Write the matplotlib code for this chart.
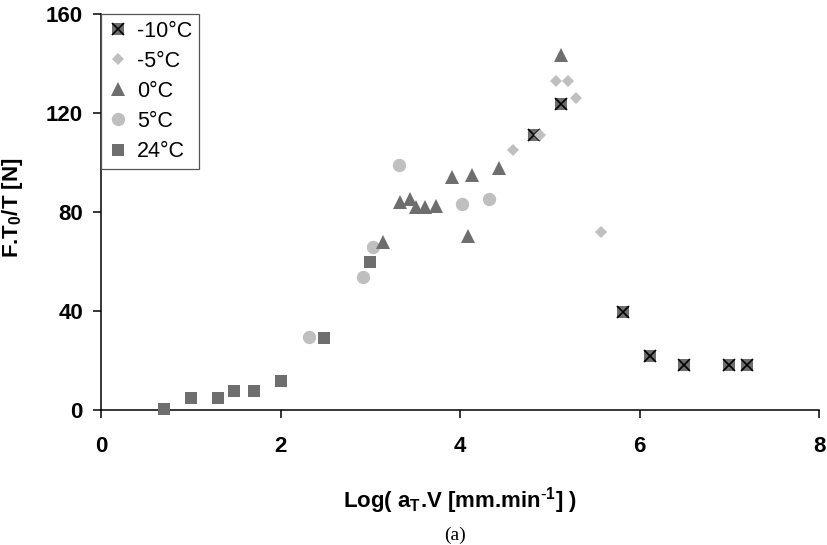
import matplotlib
matplotlib.use("Agg")
import matplotlib.pyplot as plt

# data: x = Log(aT.V), y = F.T0/T [N]
t_m10_x = [4.82, 5.12, 5.82, 6.12, 6.50, 7.00, 7.20]
t_m10_y = [111.0, 123.5, 39.5, 21.7, 18.0, 18.0, 18.0]
t_m5_x = [4.59, 4.89, 5.07, 5.20, 5.29, 5.57]
t_m5_y = [105.0, 111.0, 133.0, 133.0, 126.2, 72.0]
t_0_x = [3.14, 3.33, 3.44, 3.51, 3.61, 3.73, 3.91, 4.09, 4.13, 4.43, 5.13]
t_0_y = [68.0, 84.2, 85.1, 82.0, 82.0, 82.5, 94.0, 70.4, 95.0, 97.6, 143.4]
t_5_x = [2.32, 2.92, 3.03, 3.32, 4.02, 4.32]
t_5_y = [29.4, 53.9, 66.0, 99.0, 83.2, 85.4]
t_24_x = [0.70, 1.00, 1.30, 1.48, 1.70, 2.00, 2.48, 3.00]
t_24_y = [0.3, 5.0, 4.7, 7.7, 7.7, 11.8, 29.0, 60.0]

labels = ["-10°C", "-5°C", "0°C", "5°C", "24°C"]
x_ticks = [0, 2, 4, 6, 8]
y_ticks = [0, 40, 80, 120, 160]

dark = "#6e6e6e"
light = "#bfbfbf"

plt.rcParams["font.family"] = ["Liberation Sans", "DejaVu Sans"]
plt.rcParams["mathtext.default"] = "regular"
plt.rcParams["axes.unicode_minus"] = False

fig = plt.figure(figsize=(8.27, 5.45), dpi=100)
ax = fig.add_axes([101 / 827, 1 - 410 / 545, 718 / 827, 396 / 545])

kw = dict(linestyle="none", clip_on=False, zorder=3, markeredgewidth=0)

# -10°C: grey square with black cross
sq10, = ax.plot(t_m10_x, t_m10_y, marker="s", markersize=9, color=dark, **kw)
x10, = ax.plot(t_m10_x, t_m10_y, marker="x", markersize=8.5, color="black",
               linestyle="none", clip_on=False, zorder=3, markeredgewidth=1.2)
dm5, = ax.plot(t_m5_x, t_m5_y, marker="D", markersize=5.8, color=light, **kw)
c5, = ax.plot(t_5_x, t_5_y, marker="o", markersize=9.6, color=light, **kw)
tr0, = ax.plot(t_0_x, t_0_y, marker="^", markersize=9.6, color=dark, **kw)
sq24, = ax.plot(t_24_x, t_24_y, marker="s", markersize=9, color=dark, **kw)

ax.set_xlim(0, 8)
ax.set_ylim(0, 160)
ax.set_xticks(x_ticks)
ax.set_yticks(y_ticks)

for side in ["top", "right"]:
    ax.spines[side].set_visible(False)
for side in ["left", "bottom"]:
    ax.spines[side].set_linewidth(1.1)
    ax.spines[side].set_color("black")

ax.tick_params(axis="both", direction="out", length=6, width=1.1, color="black")
ax.tick_params(axis="x", pad=13)
ax.tick_params(axis="y", pad=7)
for lab in ax.get_xticklabels() + ax.get_yticklabels():
    lab.set_fontsize(16)
    lab.set_fontweight("bold")

ax.set_xlabel("Log( a$_T$.V [mm.min$^{\\text{-}1}$] )", fontsize=16, fontweight="bold")
ax.xaxis.set_label_coords(0.5, -0.19)
ax.set_ylabel("F.T$_0$/T [N]", fontsize=16, fontweight="bold")
ax.yaxis.set_label_coords(-0.106, 0.51)

leg = ax.legend([(sq10, x10), dm5, tr0, c5, sq24], labels,
                loc="upper left", bbox_to_anchor=(0, 1), borderaxespad=0,
                fontsize=15.5, numpoints=1, handlelength=0.9, handletextpad=0.45,
                labelspacing=0.42, borderpad=0.32, fancybox=False,
                edgecolor="#555555", framealpha=1)
leg.get_frame().set_linewidth(0.9)

fig.text(455 / 827, 1 - 535 / 545, "(a)", ha="center", va="center",
         fontsize=14, family="Liberation Serif")

fig.savefig("out.png", dpi=100)
